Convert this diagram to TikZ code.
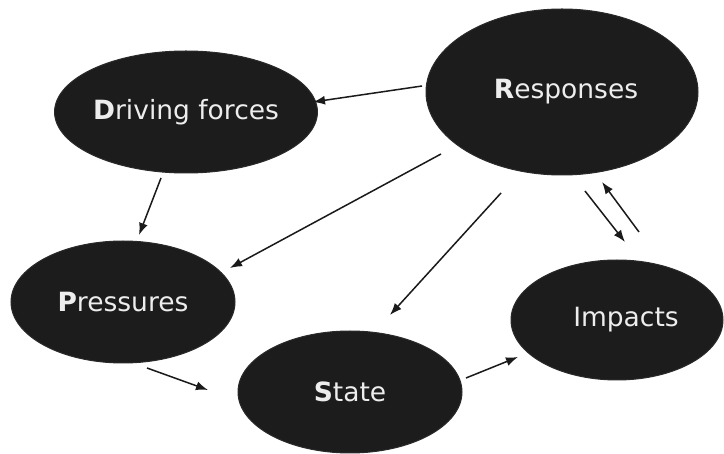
\documentclass[tikz,border=0pt]{standalone}
\usepackage{fontspec}
\setmainfont{DejaVu Sans}
\usetikzlibrary{arrows.meta,shapes.geometric}
\definecolor{blobfill}{HTML}{1C1C1C}
\definecolor{blobedge}{HTML}{2A2A2A}
\definecolor{blobtext}{HTML}{EDEDED}
\definecolor{linkcol}{HTML}{1A1A1A}
\begin{document}
\begin{tikzpicture}[x=1pt,y=-1pt,
  blob/.style={ellipse, fill=blobfill, draw=blobedge, line width=1pt, inner sep=0pt,
    text=blobtext, font=\fontsize{26.5}{30}\selectfont},
  link/.style={draw=linkcol, line width=1.5pt, -{Latex[length=12pt,width=9pt]}}]
\useasboundingbox (0,0) rectangle (724,454);
\fill[white] (0,0) rectangle (724,454);

\node[blob, minimum width=226pt, minimum height=122pt] (drv) at (186,112) {\textbf{D}riving forces};
\node[blob, minimum width=272pt, minimum height=166pt] (rsp) at (562,92) {\hspace{8pt}\textbf{R}esponses};
\node[blob, minimum width=224pt, minimum height=122pt] (prs) at (123,302) {\textbf{P}ressures\hspace{4pt}};
\node[blob, minimum width=224pt, minimum height=122pt] (sta) at (350,392) {\textbf{S}tate};
\node[blob, minimum width=212pt, minimum height=120pt] (imp) at (617,320) {\hspace{18pt}Impacts};

% connector end points
\coordinate (a1) at (422,86);  \coordinate (a2) at (313,102);
\coordinate (b1) at (161,178); \coordinate (b2) at (139,235);
\coordinate (c1) at (441,154); \coordinate (c2) at (230,268);
\coordinate (d1) at (501,193); \coordinate (d2) at (390,315);
\coordinate (e1) at (147,368); \coordinate (e2) at (208,390);
\coordinate (f1) at (466,378); \coordinate (f2) at (518,357);
\coordinate (g1) at (585,191); \coordinate (g2) at (625,242);
\coordinate (h1) at (639,232); \coordinate (h2) at (602,182);

\draw[link] (a1) -- (a2);
\draw[link] (b1) -- (b2);
\draw[link] (c1) -- (c2);
\draw[link] (d1) -- (d2);
\draw[link] (e1) -- (e2);
\draw[link] (f1) -- (f2);
\draw[link] (g1) -- (g2);
\draw[link] (h1) -- (h2);
\end{tikzpicture}
\end{document}
